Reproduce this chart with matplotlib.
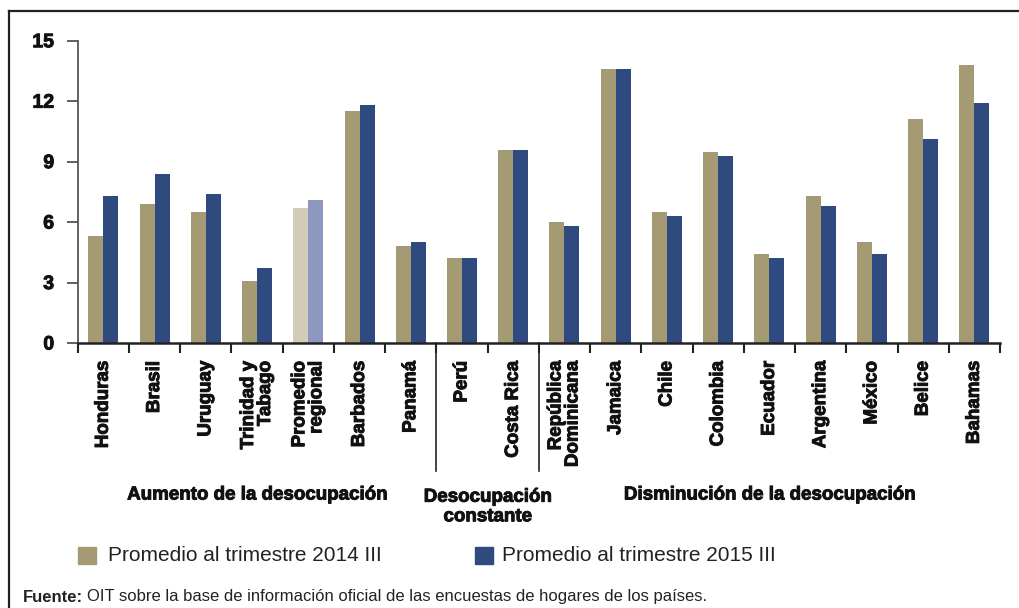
import matplotlib
matplotlib.use("Agg")
import matplotlib.pyplot as plt
import matplotlib.transforms as mtransforms
import matplotlib.patheffects as pe
from matplotlib.lines import Line2D
from matplotlib.patches import Rectangle
import numpy as np

plt.rcParams["font.family"] = ["Liberation Sans", "DejaVu Sans"]

paises = ["Honduras", "Brasil", "Uruguay", "Trinidad y\nTabago", "Promedio\nregional",
          "Barbados", "Panamá", "Perú", "Costa Rica", "República\nDominicana",
          "Jamaica", "Chile", "Colombia", "Ecuador", "Argentina", "México",
          "Belice", "Bahamas"]
valores_2014 = [5.3, 6.9, 6.5, 3.1, 6.7, 11.5, 4.8, 4.2, 9.6, 6.0,
                13.6, 6.5, 9.5, 4.4, 7.3, 5.0, 11.1, 13.8]
valores_2015 = [7.3, 8.4, 7.4, 3.7, 7.1, 11.8, 5.0, 4.2, 9.6, 5.8,
                13.6, 6.3, 9.3, 4.2, 6.8, 4.4, 10.1, 11.9]
serie_labels = ["Promedio al trimestre 2014 III", "Promedio al trimestre 2015 III"]
# (label, first index, last index)
grupos = [("Aumento de la desocupación", 0, 6),
          ("Desocupación\nconstante", 7, 8),
          ("Disminución de la desocupación", 9, 17)]
yticks = [0, 3, 6, 9, 12, 15]

TAN, BLUE = "#A49A74", "#2F4A7E"
TAN_L, BLUE_L = "#D1CBB8", "#8E97BE"
idx_regional = paises.index("Promedio\nregional")

W, H = 1019, 608
fig = plt.figure(figsize=(W / 100, H / 100), dpi=100)
ax = fig.add_axes([77.7 / W, 1 - 343 / H, (1000 - 77.7) / W, (343 - 40.7) / H])

x = np.arange(len(paises))
w = 0.293
c14 = [TAN_L if i == idx_regional else TAN for i in x]
c15 = [BLUE_L if i == idx_regional else BLUE for i in x]
ax.bar(x - w / 2, valores_2014, w, color=c14)
ax.bar(x + w / 2, valores_2015, w, color=c15)

ax.set_xlim(-0.5, len(paises) - 0.5)
ax.set_ylim(0, 15)
ax.set_yticks(yticks)
ax.tick_params(axis="y", length=8, width=1.2, pad=9, labelsize=14, color="#444444")

ax.set_xticks(x)
ax.set_xticklabels(paises, rotation=90, multialignment="right", linespacing=1.0)
ax.tick_params(axis="x", which="major", length=0, pad=13, labelsize=13.5)
ax.set_xticks(np.arange(-0.5, len(paises)), minor=True)
ax.tick_params(axis="x", which="minor", length=7.5, width=1.5, color="#222222")

# heavier look, like the condensed black face of the original
heavy = [pe.withStroke(linewidth=0.7, foreground="#111111")]
for lab in ax.get_xticklabels() + ax.get_yticklabels():
    lab.set_fontweight("bold")
    lab.set_color("#111111")
    lab.set_path_effects(heavy)

for s in ["top", "right"]:
    ax.spines[s].set_visible(False)
ax.spines["left"].set_color("#555555")
ax.spines["left"].set_linewidth(1.3)
ax.spines["bottom"].set_color("#222222")
ax.spines["bottom"].set_linewidth(1.8)

# group separators
trans_sep = mtransforms.blended_transform_factory(ax.transData, ax.transAxes)
for g in grupos[1:]:
    xs = g[1] - 0.5
    ax.add_line(Line2D([xs, xs], [0, -0.425], transform=trans_sep, color="#222222",
                       lw=1.2, clip_on=False))

# group labels
trans_grp = mtransforms.blended_transform_factory(ax.transData, fig.transFigure)
for nombre, i0, i1 in grupos:
    nlin = nombre.count("\n") + 1
    yc = 1 - (495 + 12 * (nlin - 1)) / H
    fig.text((i0 + i1) / 2, yc, nombre, transform=trans_grp, ha="center", va="center",
             fontsize=13.5, fontweight="bold", linespacing=1.2, color="#111111",
             path_effects=heavy)

# legend
for (x0, tx), col, lab in zip([(78, 108), (475, 502)], [TAN, BLUE], serie_labels):
    fig.patches.append(Rectangle((x0 / W, 1 - 564 / H), 18 / W, 17 / H,
                                 transform=fig.transFigure, color=col))
    fig.text(tx / W, 1 - 555.5 / H, lab, ha="left", va="center", fontsize=15,
             color="#222222")

# source
t1 = fig.text(23 / W, 1 - 597 / H, "Fuente:", ha="left", va="center",
              fontsize=12, fontweight="bold", color="#222222")
ax.annotate("OIT sobre la base de información oficial de las encuestas de hogares de los países.",
            xy=(1, 0.5), xycoords=t1, xytext=(3, 0), textcoords="offset points",
            ha="left", va="center", fontsize=12, color="#222222", annotation_clip=False)

# frame
fig.add_artist(Line2D([9 / W, 9 / W], [0, 1 - 10.5 / H], transform=fig.transFigure,
                      color="#222222", lw=1.6))
fig.add_artist(Line2D([9 / W, 1], [1 - 10.5 / H, 1 - 10.5 / H], transform=fig.transFigure,
                      color="#222222", lw=1.6))

fig.savefig("out.png", dpi=100, facecolor="white")
